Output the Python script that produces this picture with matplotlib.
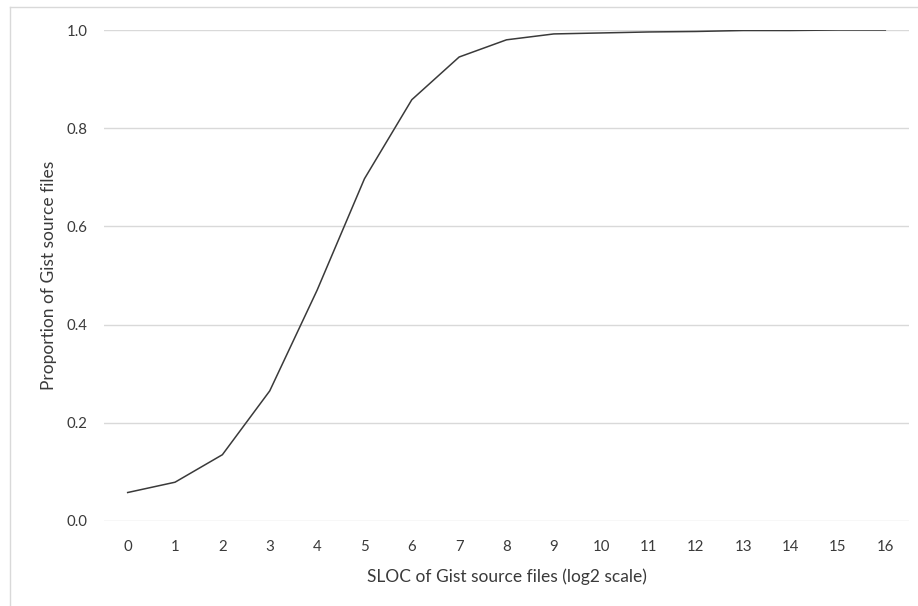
import matplotlib
matplotlib.use("Agg")
import matplotlib.pyplot as plt
from matplotlib.lines import Line2D

plt.rcParams['font.family'] = ['Lato', 'DejaVu Sans']

# log2 SLOC buckets and cumulative proportion of gist source files
sloc_log2 = list(range(17))
proportion = [0.058, 0.079, 0.135, 0.265, 0.47, 0.697, 0.858, 0.945, 0.980,
              0.992, 0.994, 0.996, 0.997, 0.999, 0.999, 1.0, 1.0]
y_ticks = [0.0, 0.2, 0.4, 0.6, 0.8, 1.0]

W, H = 918, 606
fig = plt.figure(figsize=(W / 100, H / 100), dpi=100)
ax = fig.add_axes([104 / W, 1 - 521 / H, (909 - 104) / W, (521 - 30) / H])

ax.plot(sloc_log2, proportion, color='#3a3a3a', lw=1.1)

ax.set_xlim(-0.5, 16.5)
ax.set_ylim(0, 1.0)
ax.set_xticks(sloc_log2)
ax.set_xticklabels([str(v) for v in sloc_log2])
ax.set_yticks(y_ticks)
ax.set_yticklabels([f"{v:.1f}" for v in y_ticks])
ax.grid(axis='y', color='#d9d9d9', lw=1.0)
ax.set_axisbelow(True)
for s in ax.spines.values():
    s.set_visible(False)
ax.tick_params(length=0, labelsize=10.8, colors='#3a3a3a')
ax.tick_params(axis='x', pad=13.5)
ax.tick_params(axis='y', pad=12)

ax.set_xlabel('SLOC of Gist source files (log2 scale)', fontsize=12.5,
              color='#3a3a3a', labelpad=10.5)
ax.set_ylabel('Proportion of Gist source files', fontsize=12.5,
              color='#3a3a3a', labelpad=7)

# chart area frame (only left and top edges visible in the crop)
fig.add_artist(Line2D([10 / W, 10 / W], [0, 1 - 7 / H], transform=fig.transFigure,
                      color='#d9d9d9', lw=1.0))
fig.add_artist(Line2D([10 / W, 1], [1 - 7 / H, 1 - 7 / H], transform=fig.transFigure,
                      color='#d9d9d9', lw=1.0))

fig.savefig('out.png', dpi=100)
